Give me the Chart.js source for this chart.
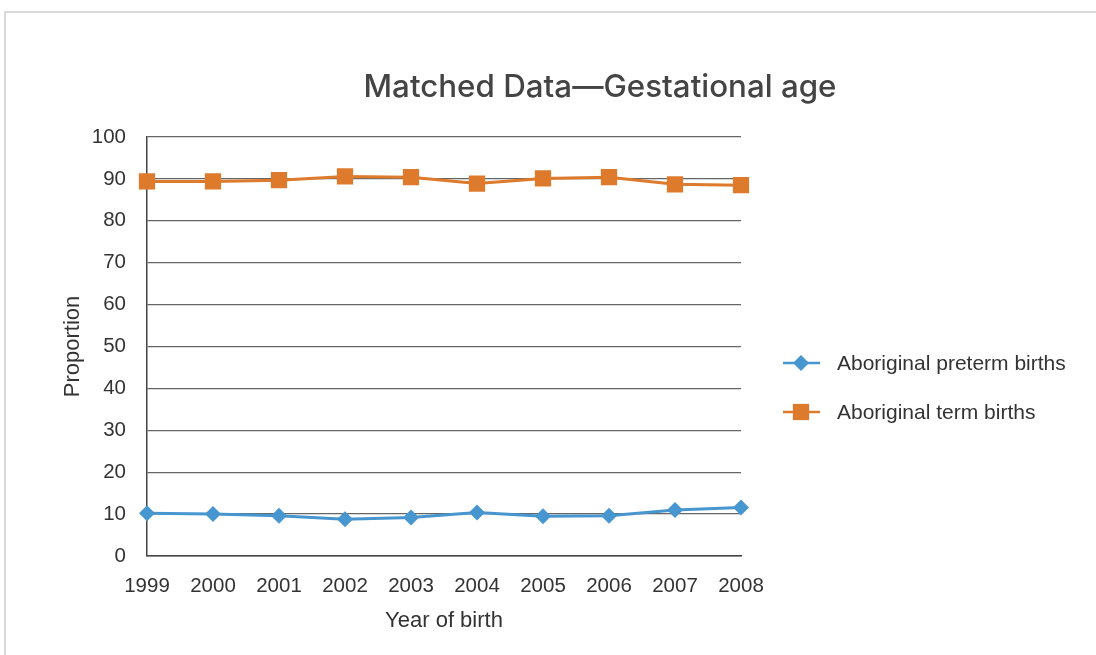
<!DOCTYPE html>
<html>
<head>
<meta charset="utf-8">
<script src="https://cdn.jsdelivr.net/npm/chart.js@4/dist/chart.umd.min.js"></script>
<style>
  html, body { margin: 0; padding: 0; background: #fff; overflow: hidden; }
  #frame { position: absolute; left: 4px; top: 11px; width: 1200px; height: 800px;
           border-left: 2px solid #d9d9d9; border-top: 2px solid #d9d9d9; }
  #wrap { position: absolute; left: 0; top: 0; width: 1096px; height: 655px; }
</style>
</head>
<body>
<div id="frame"></div>
<div id="wrap"><canvas id="c" width="1096" height="655"></canvas></div>
<script>
const years = ['1999','2000','2001','2002','2003','2004','2005','2006','2007','2008'];
const pretermBirths = [10.2, 10.0, 9.6, 8.8, 9.2, 10.4, 9.5, 9.6, 11.0, 11.6];
const termBirths = [89.4, 89.4, 89.7, 90.6, 90.4, 88.9, 90.1, 90.4, 88.7, 88.5];
const seriesNames = ['Aboriginal preterm births', 'Aboriginal term births'];
const yTicks = [0, 10, 20, 30, 40, 50, 60, 70, 80, 90, 100];
const chartTitle = 'Matched Data\u2014Gestational age';

const BLUE = '#4796cf';
const ORANGE = '#dd7a2c';
const FONT = "'Liberation Sans', Arial, sans-serif";

const customDecor = {
  id: 'customDecor',
  afterDraw(chart) {
    const ctx = chart.ctx;
    ctx.save();
    // title
    ctx.fillStyle = '#444';
    ctx.font = "500 31.3px Inter, 'Liberation Sans', sans-serif";
    ctx.textAlign = 'center';
    ctx.textBaseline = 'middle';
    ctx.fillText(chartTitle, 600, 88);
    // legend
    const x0 = 783, x1 = 820, xm = 801, tx = 837;
    const ys = [363, 412];
    chart.data.datasets.forEach((ds, i) => {
      const y = ys[i];
      ctx.strokeStyle = ds.borderColor;
      ctx.lineWidth = 2.5;
      ctx.beginPath();
      ctx.moveTo(x0, y); ctx.lineTo(x1, y);
      ctx.stroke();
      ctx.fillStyle = ds.pointBackgroundColor;
      ctx.beginPath();
      if (ds.pointStyle === 'rectRot') {
        const r = ds.pointRadius;
        ctx.moveTo(xm - r, y); ctx.lineTo(xm, y - r); ctx.lineTo(xm + r, y); ctx.lineTo(xm, y + r);
      } else {
        const s = ds.pointRadius * Math.SQRT1_2;
        ctx.rect(xm - s, y - s, 2 * s, 2 * s);
      }
      ctx.closePath();
      ctx.fill();
      ctx.fillStyle = '#333';
      ctx.font = "21px " + FONT;
      ctx.textBaseline = 'middle';
      ctx.textAlign = 'left';
      ctx.fillText(ds.label, tx, y + 1);
    });
    ctx.restore();
  }
};

new Chart(document.getElementById('c'), {
  type: 'line',
  data: {
    labels: years,
    datasets: [
      {
        label: seriesNames[0], data: pretermBirths,
        borderColor: BLUE, backgroundColor: BLUE,
        pointBackgroundColor: BLUE, pointBorderColor: BLUE,
        pointStyle: 'rectRot', pointRadius: 8, pointBorderWidth: 0,
        borderWidth: 3, tension: 0
      },
      {
        label: seriesNames[1], data: termBirths,
        borderColor: ORANGE, backgroundColor: ORANGE,
        pointBackgroundColor: ORANGE, pointBorderColor: ORANGE,
        pointStyle: 'rect', pointRadius: 11.5, pointBorderWidth: 0,
        borderWidth: 3, tension: 0
      }
    ]
  },
  options: {
    responsive: false,
    animation: false,
    devicePixelRatio: 1,
    layout: { padding: { left: 40, right: 355, top: 137, bottom: 10 } },
    plugins: {
      legend: { display: false },
      tooltip: { enabled: false },
      title: { display: false }
    },
    scales: {
      x: {
        offset: false,
        grid: { display: false, drawTicks: false },
        border: { display: true, color: '#444', width: 1.5 },
        ticks: { color: '#333', font: { family: FONT, size: 20.5, lineHeight: 1.2 }, padding: 18, maxRotation: 0, autoSkip: false },
        title: { display: true, text: 'Year of birth', color: '#333', font: { family: FONT, size: 22, lineHeight: 1.2 }, padding: { top: 0, bottom: 11 } },
        afterFit(scale) { scale.height = 89; }
      },
      y: {
        min: 0, max: 100,
        afterBuildTicks(scale) { scale.ticks = yTicks.map(v => ({ value: v })); },
        grid: { color: '#666', lineWidth: 1.3, drawTicks: false },
        border: { display: true, color: '#444', width: 1.5 },
        ticks: { color: '#333', font: { family: FONT, size: 20.5 }, padding: 21 },
        title: { display: true, text: 'Proportion', color: '#333', font: { family: FONT, size: 22, lineHeight: 1.2 }, padding: { top: 19.5, bottom: 0 } },
        afterFit(scale) { scale.width = 107; }
      }
    }
  },
  plugins: [customDecor]
});
</script>
</body>
</html>
